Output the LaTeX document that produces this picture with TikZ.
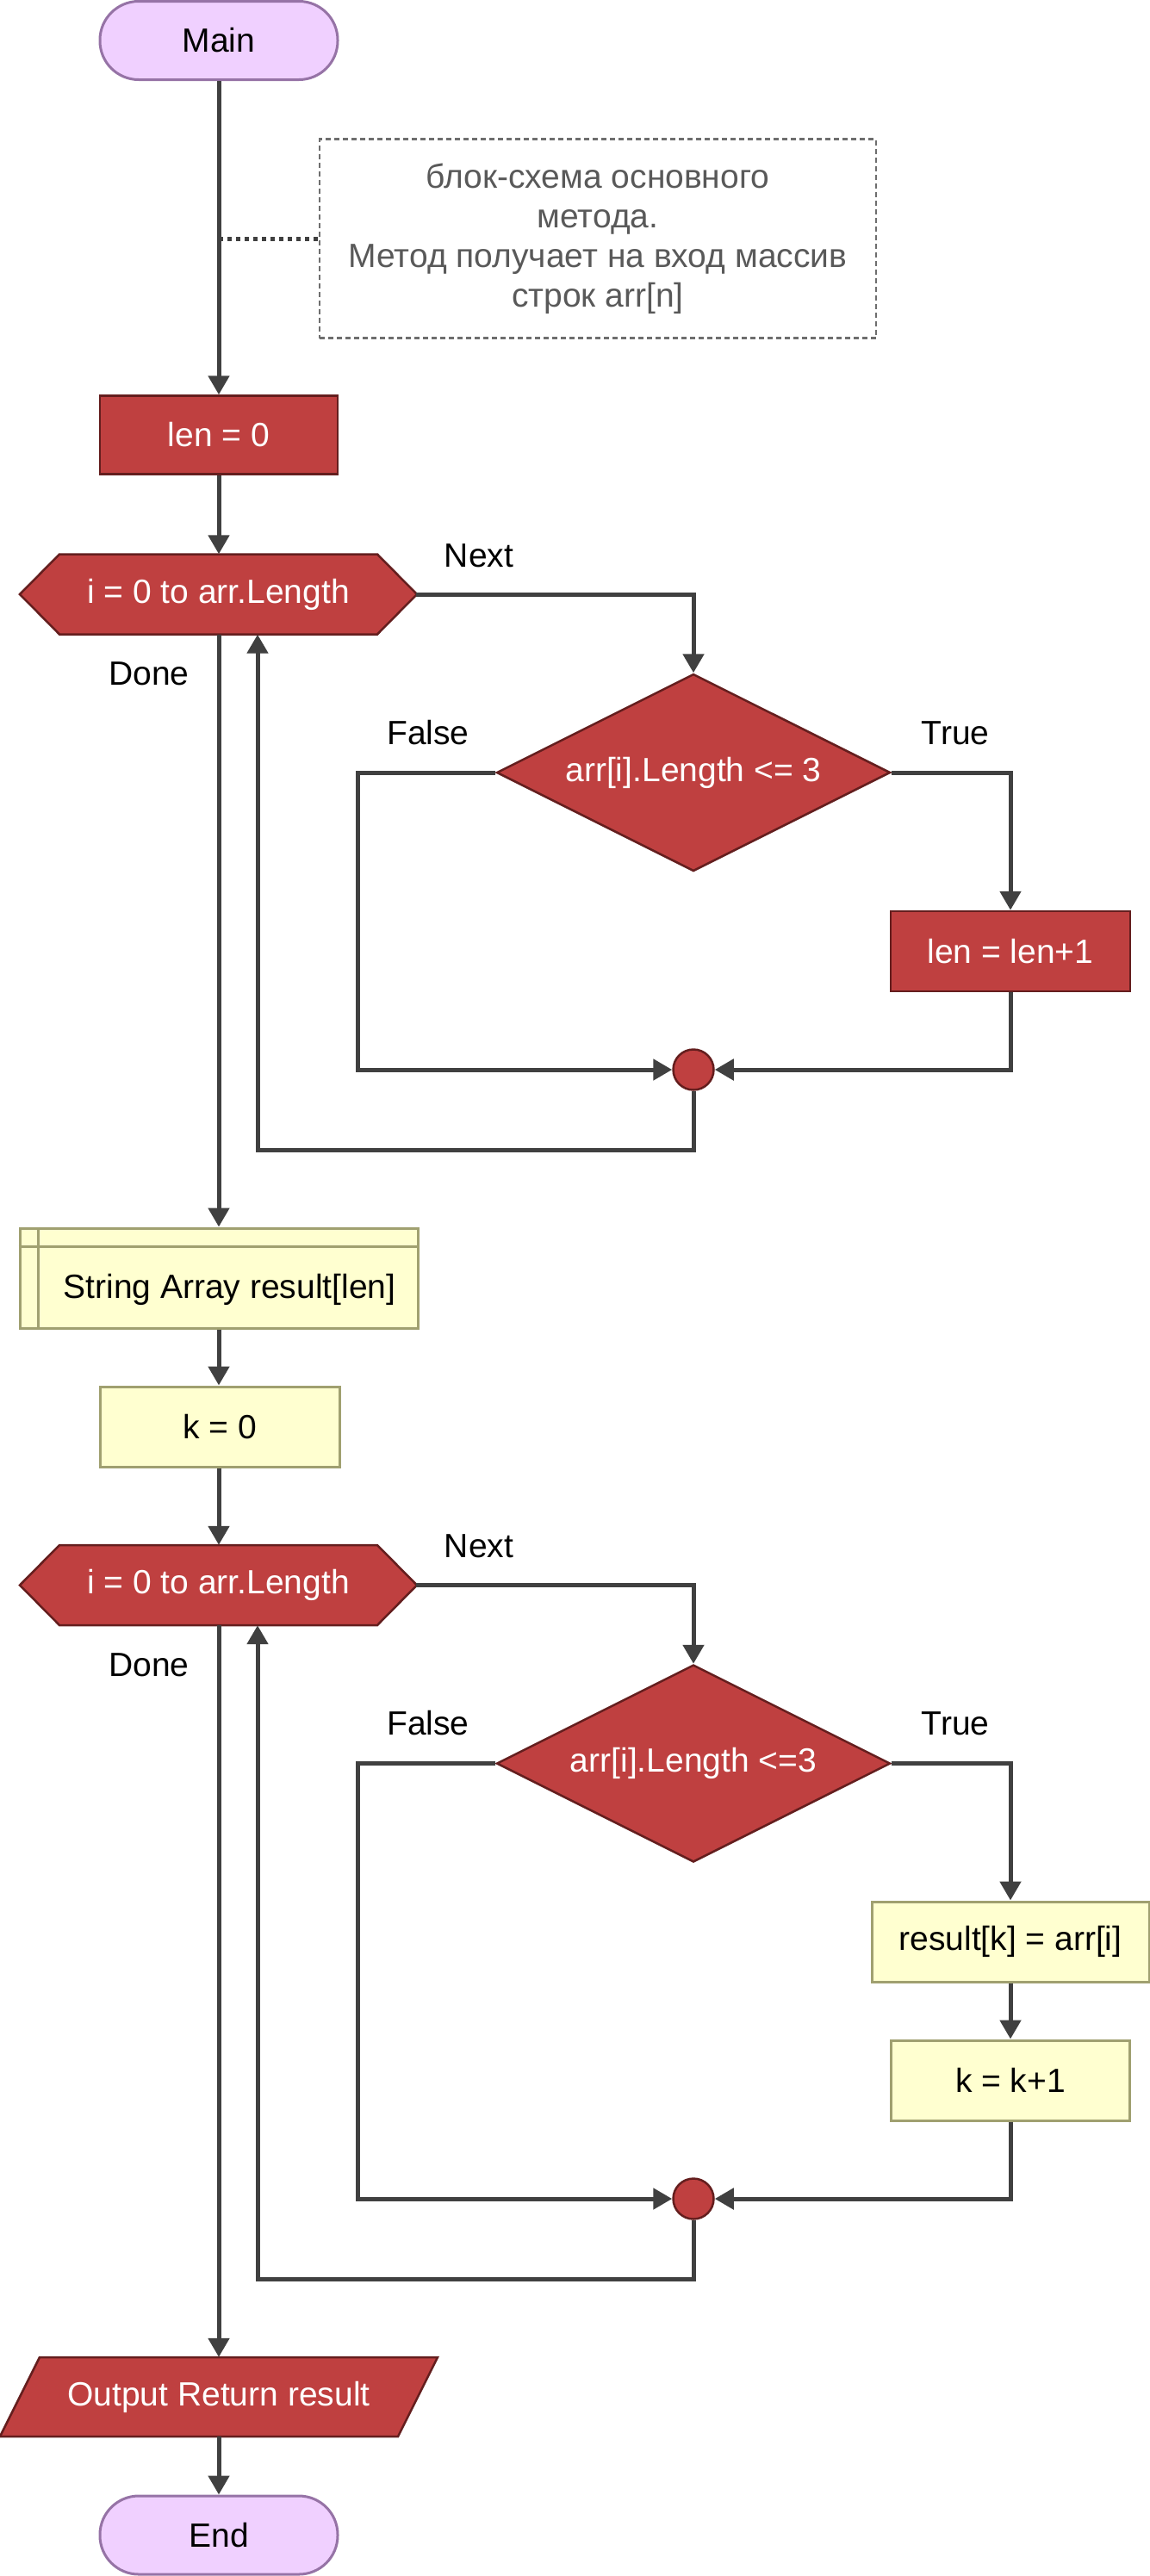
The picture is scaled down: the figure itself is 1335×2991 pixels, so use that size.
\documentclass[tikz,border=0pt]{standalone}
\usepackage{fontspec}
\setmainfont{Liberation Sans}
\usetikzlibrary{arrows.meta,shapes.geometric,calc}
\definecolor{redf}{RGB}{191,64,64}
\definecolor{redd}{RGB}{100,30,30}
\definecolor{purf}{RGB}{240,208,255}
\definecolor{purd}{RGB}{150,115,166}
\definecolor{yelf}{RGB}{255,255,208}
\definecolor{yeld}{RGB}{160,160,112}
\definecolor{conc}{RGB}{64,64,64}
\definecolor{notec}{RGB}{89,89,89}
\definecolor{noteb}{RGB}{110,110,110}
\begin{document}
\begin{tikzpicture}[x=1pt,y=-1pt,
  every node/.style={font=\fontsize{39}{46}\selectfont, inner sep=0pt},
  termbox/.style={draw=purd, fill=purf, line width=3pt, rounded corners=45pt, minimum width=276pt, minimum height=91pt},
  redbox/.style={draw=redd, fill=redf, line width=2.5pt, text=white, minimum width=276pt, minimum height=91pt},
  yelbox/.style={draw=yeld, fill=yelf, line width=3pt, minimum height=93pt},
  redshape/.style={draw=redd, fill=redf, line width=2.5pt, line join=miter},
  decbox/.style={diamond, aspect=2, redshape, text=white, minimum width=457pt, minimum height=229pt},
  juncnode/.style={circle, redshape, minimum size=47pt},
  shapetext/.style={text=white, minimum width=459pt, minimum height=93pt},
  arrowline/.style={draw=conc, line width=5pt, -{Triangle[length=22pt,width=24pt]}},
  plainline/.style={draw=conc, line width=5pt},
]
\useasboundingbox (0,0) rectangle (1335,2991);

% ---------- nodes ----------
\node[termbox] (main) at (254,47) {Main};
\node[draw=noteb, line width=2.5pt, dash pattern=on 6pt off 4pt, minimum width=646pt, minimum height=231pt,
      text=notec, align=center] (note) at (694,277)
  {блок-схема основного\\метода.\\Метод получает на вход массив\\строк arr[n]};
\node[redbox] (len0) at (254,505) {len = 0};

% loop 1
\filldraw[redshape] (23,690) -- (69,643.5) -- (438,643.5) -- (484,690) -- (438,736.5) -- (69,736.5) -- cycle;
\node[shapetext] (hex1) at (253.5,690) {i = 0 to arr.Length};
\node[decbox] (d1) at (805,897) {arr[i].Length <= 3};
\node[redbox, minimum width=278pt, minimum height=93pt] (lenp1) at (1173,1104.5) {len = len+1};
\node[juncnode] (c1) at (805,1242) {};

% string array
\node[yelbox, minimum width=462pt, minimum height=116pt] (sa) at (254,1484) {};
\draw[yeld, line width=3pt] ($(sa.north west)+(23,0)$) -- ($(sa.south west)+(23,0)$);
\draw[yeld, line width=3pt] ($(sa.north west)+(0,23)$) -- ($(sa.north east)+(0,23)$);
\node (satext) at (266.5,1497) {String Array result[len]};
\node[yelbox, minimum width=278pt] (k0) at (255,1656.5) {k = 0};

% loop 2
\filldraw[redshape] (23,1840.5) -- (69,1794) -- (438,1794) -- (484,1840.5) -- (438,1887) -- (69,1887) -- cycle;
\node[shapetext] (hex2) at (253.5,1840.5) {i = 0 to arr.Length};
\node[decbox] (d2) at (805,2047.5) {arr[i].Length <=3};
\node[yelbox, minimum width=322pt] (res) at (1173,2254.5) {result[k] = arr[i]};
\node[yelbox, minimum width=277pt] (kp1) at (1173,2415.5) {k = k+1};
\node[juncnode] (c2) at (805,2553) {};

% output and end
\filldraw[redshape] (46,2737) -- (508,2737) -- (462,2829) -- (0,2829) -- cycle;
\node[shapetext, minimum width=462pt, minimum height=92pt] (outp) at (254,2783) {Output Return result};
\node[termbox] (endn) at (254,2943.5) {End};

% labels
\node (next1) at (556,645) {Next};
\node (done1) at (173,782) {Done};
\node (false1) at (497,851) {False};
\node (true1) at (1109,851) {True};
\node (next2) at (556,1795) {Next};
\node (done2) at (173,1933) {Done};
\node (false2) at (497,2001) {False};
\node (true2) at (1109,2001) {True};

% ---------- connectors ----------
\draw[arrowline] (main.south) -- (len0.north);
\coordinate (nl) at (254,277);
\draw[plainline, dash pattern=on 5pt off 5pt] (nl) -- (note.west);
\draw[arrowline] (len0.south) -- ([xshift=0.5pt]hex1.north);

\draw[arrowline] (hex1.east) -| (d1.north);
\draw[arrowline] (d1.west) -- ++(-160,0) |- (c1.west);
\draw[arrowline] (d1.east) -| (lenp1.north);
\draw[arrowline] (lenp1.south) |- (c1.east);
\draw[arrowline] (c1.south) -- ++(0,68.5) -| ([xshift=45.5pt]hex1.south);
\draw[arrowline] ([xshift=0.5pt]hex1.south) -- (sa.north);

\draw[arrowline] (sa.south) -- (k0.north -| sa.south);
\draw[arrowline] (k0.south -| sa.south) -- ([xshift=0.5pt]hex2.north);

\draw[arrowline] (hex2.east) -| (d2.north);
\draw[arrowline] (d2.west) -- ++(-160,0) |- (c2.west);
\draw[arrowline] (d2.east) -| (res.north);
\draw[arrowline] (res.south) -- (kp1.north);
\draw[arrowline] (kp1.south) |- (c2.east);
\draw[arrowline] (c2.south) -- ++(0,68.5) -| ([xshift=45.5pt]hex2.south);
\draw[arrowline] ([xshift=0.5pt]hex2.south) -- (outp.north);
\draw[arrowline] (outp.south) -- (endn.north);
\end{tikzpicture}
\end{document}
